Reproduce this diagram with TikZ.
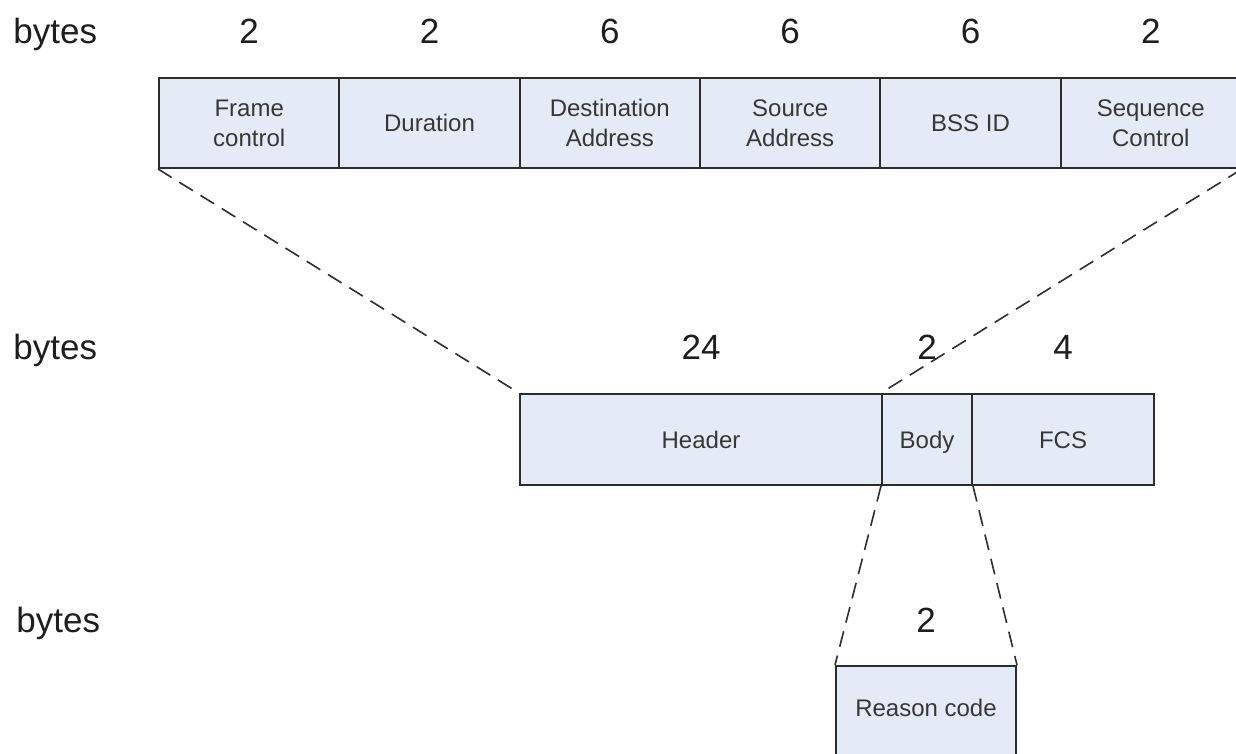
\documentclass[tikz,border=0pt]{standalone}
\usepackage{fontspec}
\setmainfont{Liberation Sans}
\definecolor{cellfill}{RGB}{228,234,246}
\definecolor{cellline}{RGB}{45,45,45}
\definecolor{celltext}{RGB}{55,55,55}
\definecolor{numtext}{RGB}{30,30,30}
\begin{document}
\begin{tikzpicture}[x=0.5pt,y=-0.5pt,
  cell/.style={draw=cellline, line width=1pt, fill=cellfill, rectangle,
    inner sep=0pt, minimum height=45pt, align=center, text=celltext,
    font=\fontsize{12}{15}\selectfont},
  oneline/.style={text height=8.6pt, text depth=0pt},
  bytelabel/.style={anchor=base west, inner sep=0pt, text=numtext,
    font=\fontsize{17.5}{20}\selectfont},
  count/.style={anchor=base, inner sep=0pt, text=numtext,
    font=\fontsize{17.5}{20}\selectfont},
  zoomline/.style={draw=cellline, line width=0.8pt, dash pattern=on 8pt off 4.5pt}]
\useasboundingbox (0,0) rectangle (1236,754);

% MAC header fields
\node[cell, minimum width=90.17pt] (fc)  at (249.2,123) {Frame\\control};
\node[cell, oneline, minimum width=90.17pt] (dur) at (429.5,123) {Duration};
\node[cell, minimum width=90.17pt] (da)  at (609.8,123) {Destination\\Address};
\node[cell, minimum width=90.17pt] (sa)  at (790.2,123) {Source\\Address};
\node[cell, oneline, minimum width=90.17pt] (bss) at (970.5,123) {BSS ID};
\node[cell, minimum width=90.17pt] (sc)  at (1150.8,123) {Sequence\\Control};

\node[bytelabel] (b1) at (13,44) {bytes};
\node[count] (n1) at (249.2,44) {2};
\node[count] (n2) at (429.5,44) {2};
\node[count] (n3) at (609.8,44) {6};
\node[count] (n4) at (790.2,44) {6};
\node[count] (n5) at (970.5,44) {6};
\node[count] (n6) at (1150.8,44) {2};

% Frame layout
\node[cell, oneline, minimum width=181pt, minimum height=45.5pt] (hdr)  at (701,439.5) {Header};
\node[cell, oneline, minimum width=45pt,  minimum height=45.5pt] (body) at (927,439.5) {Body};
\node[cell, oneline, minimum width=91pt,  minimum height=45.5pt] (fcs)  at (1063,439.5) {FCS};

\node[bytelabel] (b2) at (13,359) {bytes};
\node[count] (m1) at (701,359) {24};
\node[count] (m2) at (927,359) {2};
\node[count] (m3) at (1063,359) {4};

% Frame body
\node[cell, text height=8.6pt, text depth=3pt, minimum width=90pt] (rc) at (926,711) {Reason code};

\node[bytelabel] (b3) at (16,632) {bytes};
\node[count] (r1) at (926,632) {2};

% Expansion lines
\draw[zoomline] (fc.south west) -- (hdr.north west);
\draw[zoomline] (sc.south east) -- (body.north west);
\draw[zoomline] (body.south west) -- (rc.north west);
\draw[zoomline] (body.south east) -- (rc.north east);
\end{tikzpicture}
\end{document}
